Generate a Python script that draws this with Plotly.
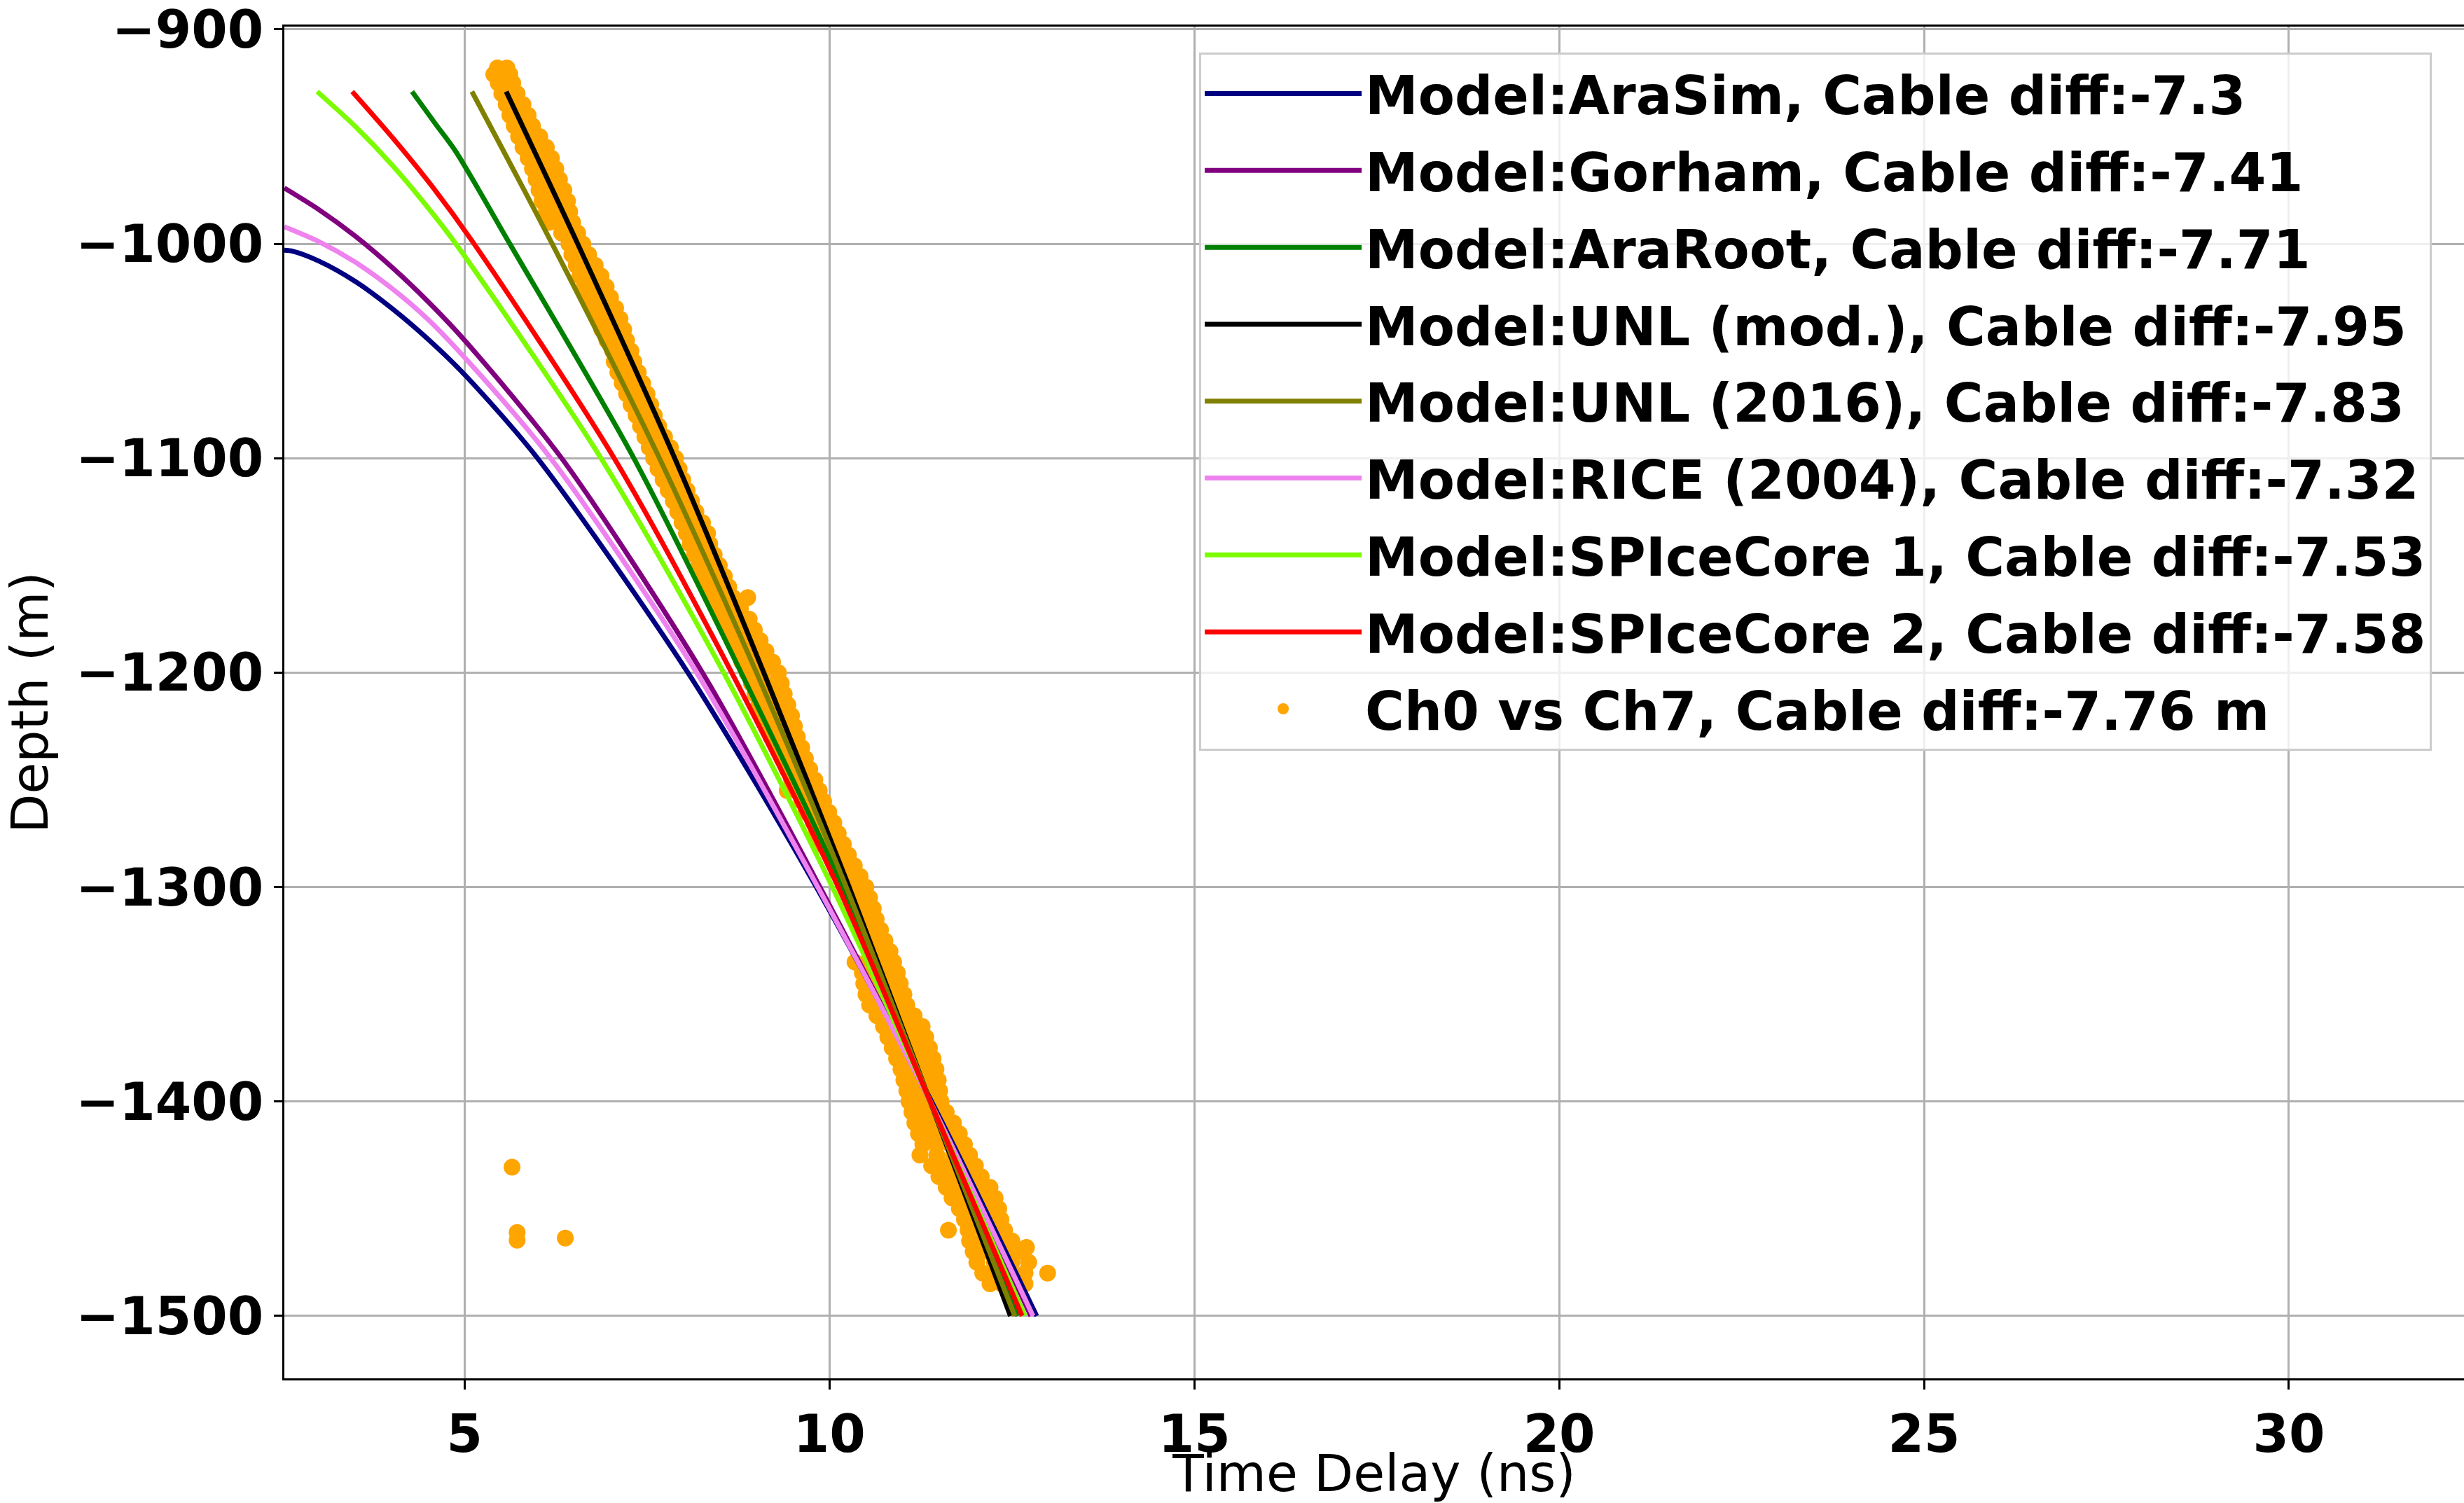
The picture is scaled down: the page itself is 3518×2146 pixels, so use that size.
import plotly.graph_objects as go

# ---------------- data ----------------
model_names = [
    "Model:AraSim, Cable diff:-7.3",
    "Model:Gorham, Cable diff:-7.41",
    "Model:AraRoot, Cable diff:-7.71",
    "Model:UNL (mod.), Cable diff:-7.95",
    "Model:UNL (2016), Cable diff:-7.83",
    "Model:RICE (2004), Cable diff:-7.32",
    "Model:SPIceCore 1, Cable diff:-7.53",
    "Model:SPIceCore 2, Cable diff:-7.58",
]
model_colors = ["#000080", "#800080", "#008000", "#000000",
                "#808000", "#EE82EE", "#7CFC00", "#FF0000"]

arasim_t = [2.53, 2.65, 3.0, 3.5, 4.0, 4.5, 5.0, 6.0, 8.06, 9.82, 11.4, 12.84]
arasim_d = [-1003, -1003.5, -1008, -1017.5, -1030, -1044.5, -1061, -1100, -1200, -1300, -1400, -1500]

gorham_t = [2.53, 3.0, 3.5, 4.0, 4.5, 5.0, 6.33, 8.26, 9.87, 11.38, 12.76]
gorham_d = [-974, -984, -996.4, -1010.8, -1027, -1045, -1100, -1200, -1300, -1400, -1500]

araroot_t = [4.28, 4.6, 4.88, 5.62, 7.32, 8.79, 10.18, 11.38, 12.58]
araroot_d = [-929, -944, -957, -1000, -1100, -1200, -1300, -1400, -1500]

unlmod_t = [5.57, 6.55, 7.88, 9.10, 10.27, 11.38, 12.48]
unlmod_d = [-929, -1000, -1100, -1200, -1300, -1400, -1500]

unl2016_t = [5.10, 6.20, 7.67, 9.00, 10.23, 11.38, 12.54]
unl2016_d = [-929, -1000, -1100, -1200, -1300, -1400, -1500]

rice_t = [2.53, 3.0, 3.5, 4.0, 4.5, 5.0, 6.18, 8.18, 9.84, 11.38, 12.79]
rice_d = [-992, -998.9, -1008.5, -1020.7, -1035.3, -1053, -1100, -1200, -1300, -1400, -1500]

spice1_t = [2.98, 3.5, 4.0, 4.5, 4.88, 6.87, 8.55, 10.04, 11.38, 12.68]
spice1_d = [-929, -945.2, -963, -983.2, -1000, -1100, -1200, -1300, -1400, -1500]

spice2_t = [3.46, 4.0, 4.55, 5.13, 7.05, 8.66, 10.12, 11.38, 12.64]
spice2_d = [-929, -950, -973, -1000, -1100, -1200, -1300, -1400, -1500]

model_t = [arasim_t, gorham_t, araroot_t, unlmod_t, unl2016_t, rice_t, spice1_t, spice2_t]
model_d = [arasim_d, gorham_d, araroot_d, unlmod_d, unl2016_d, rice_d, spice1_d, spice2_d]

meas_rows = [
    (-918, 5.45, 5.58), (-921, 5.40, 5.50, 5.62), (-925, 5.46, 5.56, 5.66),
    (-930, 5.51, 5.62, 5.72), (-935, 5.57, 5.68, 5.80), (-940, 5.62, 5.74, 5.87),
    (-945, 5.68, 5.80, 5.93), (-950, 5.74, 5.88, 6.03), (-955, 5.80, 5.95, 6.12),
    (-960, 5.87, 6.02, 6.19), (-965, 5.93, 6.08, 6.25), (-970, 5.98, 6.14, 6.30),
    (-975, 6.02, 6.19, 6.36), (-980, 6.06, 6.24, 6.41), (-985, 6.12, 6.28, 6.44),
    (-990, 6.16, 6.32, 6.48), (-995, 6.33, 6.44, 6.55), (-1000, 6.43, 6.53, 6.62),
    (-1005, 6.47, 6.58, 6.70), (-1010, 6.53, 6.66, 6.79), (-1015, 6.58, 6.72, 6.87),
    (-1020, 6.64, 6.79, 6.94), (-1025, 6.70, 6.85, 7.00), (-1030, 6.77, 6.92, 7.07),
    (-1035, 6.83, 6.98, 7.13), (-1040, 6.88, 7.03, 7.18), (-1045, 6.95, 7.08, 7.22),
    (-1050, 7.03, 7.15, 7.28), (-1055, 7.05, 7.19, 7.32), (-1060, 7.10, 7.24, 7.38),
    (-1065, 7.16, 7.30, 7.44), (-1070, 7.22, 7.36, 7.50), (-1075, 7.28, 7.41, 7.55),
    (-1080, 7.35, 7.47, 7.60), (-1085, 7.41, 7.53, 7.66), (-1090, 7.47, 7.60, 7.74),
    (-1095, 7.53, 7.67, 7.82), (-1100, 7.59, 7.74, 7.89), (-1105, 7.65, 7.80, 7.94),
    (-1110, 7.72, 7.85, 7.99), (-1115, 7.79, 7.92, 8.05), (-1120, 7.86, 7.98, 8.11),
    (-1125, 7.92, 8.05, 8.17), (-1130, 7.98, 8.12, 8.26), (-1135, 8.04, 8.18, 8.33),
    (-1140, 8.09, 8.22, 8.36), (-1145, 8.15, 8.28, 8.42), (-1150, 8.21, 8.35, 8.49),
    (-1155, 8.27, 8.41, 8.56), (-1160, 8.33, 8.47, 8.62), (-1165, 8.38, 8.52, 8.68, 8.88),
    (-1170, 8.46, 8.62, 8.78), (-1175, 8.53, 8.71, 8.90), (-1180, 8.60, 8.78, 8.97),
    (-1185, 8.67, 8.86, 9.05), (-1190, 8.74, 8.93, 9.13), (-1195, 8.80, 9.00, 9.22),
    (-1200, 8.87, 9.08, 9.30), (-1205, 8.93, 9.13, 9.34), (-1210, 8.98, 9.18, 9.38),
    (-1215, 9.03, 9.23, 9.43), (-1220, 9.08, 9.28, 9.48), (-1225, 9.15, 9.33, 9.52),
    (-1230, 9.20, 9.38, 9.56), (-1235, 9.28, 9.45, 9.62), (-1240, 9.35, 9.51, 9.67),
    (-1245, 9.42, 9.57, 9.73), (-1250, 9.48, 9.64, 9.80), (-1255, 9.42, 9.55, 9.70, 9.86),
    (-1260, 9.62, 9.77, 9.92), (-1265, 9.68, 9.83, 9.99), (-1270, 9.78, 9.92, 10.06),
    (-1275, 9.82, 9.97, 10.12), (-1280, 9.85, 10.02, 10.19), (-1285, 10.08, 10.17, 10.26),
    (-1290, 10.14, 10.24, 10.34), (-1295, 10.22, 10.32, 10.42), (-1300, 10.30, 10.40, 10.50),
    (-1305, 10.34, 10.45, 10.55), (-1310, 10.38, 10.49, 10.60), (-1315, 10.42, 10.53, 10.64),
    (-1320, 10.47, 10.58, 10.70), (-1325, 10.52, 10.64, 10.76), (-1330, 10.56, 10.70, 10.83),
    (-1335, 10.35, 10.52, 10.70, 10.88), (-1340, 10.45, 10.62, 10.78, 10.93),
    (-1345, 10.47, 10.64, 10.81, 10.97), (-1350, 10.50, 10.68, 10.85, 11.02),
    (-1355, 10.55, 10.72, 10.89, 11.06), (-1360, 10.65, 10.82, 10.99, 11.16),
    (-1365, 10.74, 10.92, 11.10, 11.27), (-1370, 10.80, 10.97, 11.15, 11.32),
    (-1375, 10.86, 11.03, 11.20, 11.37), (-1380, 10.92, 11.09, 11.26, 11.42),
    (-1385, 10.98, 11.14, 11.30, 11.46), (-1390, 11.02, 11.18, 11.34, 11.49),
    (-1395, 11.06, 11.21, 11.36, 11.51), (-1400, 11.09, 11.24, 11.39, 11.53),
    (-1405, 11.13, 11.29, 11.45, 11.60), (-1410, 11.17, 11.35, 11.52, 11.70),
    (-1415, 11.22, 11.40, 11.59, 11.78), (-1420, 11.28, 11.47, 11.66, 11.85),
    (-1425, 11.24, 11.47, 11.70, 11.92), (-1430, 11.40, 11.60, 11.80, 12.00),
    (-1435, 11.50, 11.69, 11.89, 12.08), (-1440, 11.60, 11.80, 12.00, 12.20),
    (-1445, 11.68, 11.88, 12.08, 12.27), (-1450, 11.78, 11.96, 12.14, 12.32),
    (-1455, 11.85, 12.02, 12.19, 12.35), (-1460, 11.63, 11.90, 12.10, 12.27, 12.40),
    (-1465, 11.92, 12.11, 12.31, 12.50), (-1468, 12.70),
    (-1470, 11.97, 12.18, 12.39, 12.60), (-1475, 12.02, 12.26, 12.50, 12.73),
    (-1480, 12.10, 12.30, 12.50, 12.68, 12.99), (-1485, 12.20, 12.36, 12.52, 12.68),
    # stray points
    (-1430.6, 5.65), (-1461.1, 5.72), (-1464.7, 5.72), (-1463.7, 6.38),
]
meas_name = "Ch0 vs Ch7, Cable diff:-7.76 m"

x_ticks = [5, 10, 15, 20, 25, 30]
y_ticks = [-900, -1000, -1100, -1200, -1300, -1400, -1500]

# ---------------- figure ----------------
meas_t, meas_d = [], []
for row in meas_rows:
    for t in row[1:]:
        meas_t.append(t)
        meas_d.append(row[0])

FONT = "DejaVu Sans"
fig = go.Figure()

fig.add_trace(go.Scatter(
    x=meas_t, y=meas_d, mode="markers", name=meas_name,
    marker=dict(color="#FFA500", size=24, line=dict(width=0)),
    legendrank=2000, legendgroup="meas",
))

for i, (nm, col) in enumerate(zip(model_names, model_colors)):
    fig.add_trace(go.Scatter(
        x=model_t[i], y=model_d[i], mode="lines", name=nm,
        line=dict(color=col, width=7, shape="spline", smoothing=0.8),
        legendrank=1000 + i, legendgroup="m%d" % i,
    ))

fig.update_layout(
    width=3518, height=2146,
    margin=dict(l=406, r=0, t=38, b=178),
    paper_bgcolor="white", plot_bgcolor="white",
    font=dict(family=FONT, color="black"),
    showlegend=True,
    legend=dict(
        x=0.4197, y=0.981, xanchor="left", yanchor="top",
        bgcolor="rgba(255,255,255,0.8)", bordercolor="#cccccc", borderwidth=3,
        font=dict(family=FONT, size=76, weight="bold", color="black"),
        tracegroupgap=8, itemwidth=224,
    ),
)

fig.update_xaxes(
    range=[2.53, 32.40], tickvals=x_ticks, automargin=False,
    showgrid=True, gridcolor="#b0b0b0", gridwidth=2.5, zeroline=False,
    showline=True, linecolor="black", linewidth=3, mirror=True,
    ticks="outside", ticklen=13, tickwidth=3, tickcolor="black",
    tickfont=dict(family=FONT, size=74, weight="bold", color="black"),
    title=dict(text="Time Delay (ns)", font=dict(family=FONT, size=73, color="black"), standoff=10),
)
fig.update_yaxes(
    range=[-1529.1, -898.7], tickvals=y_ticks, automargin=False,
    showgrid=True, gridcolor="#b0b0b0", gridwidth=2.5, zeroline=False,
    showline=True, linecolor="black", linewidth=3, mirror=False,
    ticks="outside", ticklen=12, tickwidth=3, tickcolor="black",
    ticklabeloverflow="allow",
    tickfont=dict(family=FONT, size=74, weight="bold", color="black"),
    title=dict(text="Depth (m)", font=dict(family=FONT, size=73, color="black"), standoff=28),
)

fig.write_html("out.html")
